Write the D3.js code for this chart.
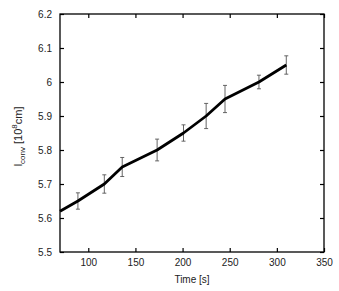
<!DOCTYPE html>
<html>
<head>
<meta charset="utf-8">
<script src="https://cdn.jsdelivr.net/npm/d3@7"></script>
<style>
  body { margin: 0; background: #fff; }
  text { font-family: "Liberation Sans", Arial, sans-serif; fill: #222; }
</style>
</head>
<body>
<div id="chart"></div>
<script>
// line through the measured points
const lineTime = [70, 89, 117, 136, 173, 201, 225, 245, 281, 310];
const lineConv = [5.62, 5.65, 5.70, 5.75, 5.80, 5.85, 5.90, 5.95, 6.00, 6.05];

// error bars
const errTime = [89, 117, 136, 173, 201, 225, 245, 281, 310];
const errConv = [5.65, 5.70, 5.75, 5.80, 5.85, 5.90, 5.95, 6.00, 6.05];
const errSize = [0.024, 0.027, 0.028, 0.032, 0.024, 0.037, 0.04, 0.02, 0.027];

const xTicks = [100, 150, 200, 250, 300, 350];
const yTicks = [5.5, 5.6, 5.7, 5.8, 5.9, 6, 6.1, 6.2];

const width = 339, height = 291;
const margin = {top: 14, right: 15, bottom: 39, left: 60};

const svg = d3.select("#chart").append("svg")
  .attr("width", width)
  .attr("height", height);

const x = d3.scaleLinear()
  .domain([70, 350])
  .range([margin.left, width - margin.right]);

const y = d3.scaleLinear()
  .domain([5.5, 6.2])
  .range([height - margin.bottom, margin.top]);

const tickLen = 4;

function styleAxis(g) {
  g.select(".domain").remove();
  g.selectAll(".tick line").attr("stroke", "#000").attr("stroke-width", 1.2);
  g.selectAll(".tick text")
    .style("font-size", "10px")
    .attr("fill", "#222");
}

// bottom
svg.append("g")
  .attr("transform", "translate(0," + y(5.5) + ")")
  .call(d3.axisBottom(x).tickValues(xTicks).tickSize(-tickLen).tickPadding(7)
    .tickFormat(d3.format("d")))
  .call(styleAxis);

// top (marks only)
svg.append("g")
  .attr("transform", "translate(0," + y(6.2) + ")")
  .call(d3.axisTop(x).tickValues(xTicks).tickSize(-tickLen).tickFormat(""))
  .call(styleAxis);

// left
svg.append("g")
  .attr("transform", "translate(" + x(70) + ",0)")
  .call(d3.axisLeft(y).tickValues(yTicks).tickSize(-tickLen).tickPadding(8)
    .tickFormat(d => d3.format("")(+d.toFixed(1))))
  .call(styleAxis);

// right (marks only)
svg.append("g")
  .attr("transform", "translate(" + x(350) + ",0)")
  .call(d3.axisRight(y).tickValues(yTicks).tickSize(-tickLen).tickFormat(""))
  .call(styleAxis);

// frame
svg.append("rect")
  .attr("x", x(70))
  .attr("y", y(6.2))
  .attr("width", x(350) - x(70))
  .attr("height", y(5.5) - y(6.2))
  .attr("fill", "none")
  .attr("stroke", "#000")
  .attr("stroke-width", 1.3);

// error bars
const errData = errTime.map((t, i) => ({t: t, v: errConv[i], e: errSize[i]}));
const cap = 2;
const eb = svg.append("g")
  .attr("stroke", "#555")
  .attr("stroke-width", 0.9);

eb.selectAll(".err")
  .data(errData)
  .enter().append("path")
  .attr("class", "err")
  .attr("fill", "none")
  .attr("d", function(d) {
    const cx = x(d.t), y0 = y(d.v - d.e), y1 = y(d.v + d.e);
    return "M" + cx + "," + y0 + "V" + y1 +
      "M" + (cx - cap) + "," + y0 + "H" + (cx + cap) +
      "M" + (cx - cap) + "," + y1 + "H" + (cx + cap);
  });

// line
const lineData = lineTime.map((t, i) => ({t: t, v: lineConv[i]}));
svg.append("path")
  .datum(lineData)
  .attr("fill", "none")
  .attr("stroke", "#000")
  .attr("stroke-width", 2.8)
  .attr("stroke-linejoin", "round")
  .attr("d", d3.line().x(d => x(d.t)).y(d => y(d.v)));

// x label
svg.append("text")
  .attr("x", x(210))
  .attr("y", 283)
  .attr("text-anchor", "middle")
  .style("font-size", "10px")
  .text("Time [s]");

// y label
const yl = svg.append("text")
  .attr("transform", "translate(22," + y(5.84) + ") rotate(-90)")
  .attr("text-anchor", "middle")
  .style("font-size", "11px");
yl.append("tspan").text("l");
yl.append("tspan").attr("dy", 3).style("font-size", "8px").text("conv");
yl.append("tspan").attr("dy", -3).text(" [10");
yl.append("tspan").attr("dy", -5).style("font-size", "8px").text("8");
yl.append("tspan").attr("dy", 5).text("cm]");
</script>
</body>
</html>
